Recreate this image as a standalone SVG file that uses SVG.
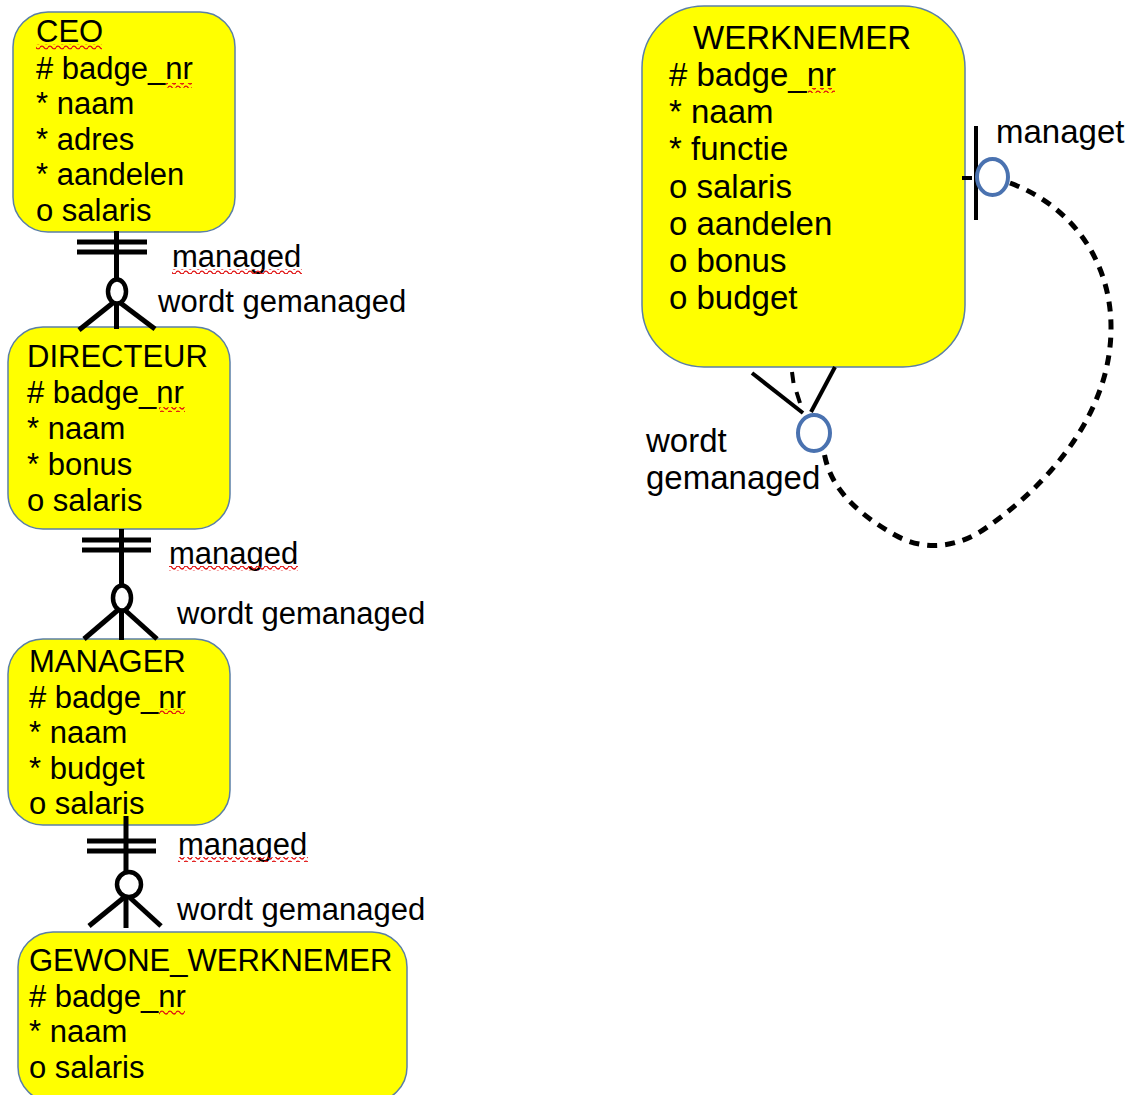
<svg xmlns="http://www.w3.org/2000/svg" width="1131" height="1095" viewBox="0 0 1131 1095">
<defs>
<style>
.box{fill:#ffff00;stroke:#5b7fa6;stroke-width:1.5}
.t{font-family:"Liberation Sans",Arial,sans-serif;font-size:31px;fill:#000}
.tw{font-family:"Liberation Sans",Arial,sans-serif;font-size:33px;fill:#000}
.ln{stroke:#000;stroke-width:5;fill:none}
.ln4{stroke:#000;stroke-width:4;fill:none}
.ov{stroke:#000;stroke-width:4.5;fill:#fff}
.bo{stroke:#4a72b0;stroke-width:4;fill:none}
.dash{stroke:#000;stroke-width:5;fill:none;stroke-dasharray:10 8}
.wv{fill:url(#wave)}
</style>
<pattern id="wave" width="8" height="5" patternUnits="userSpaceOnUse">
<path d="M0 2.5 C1 0.6 3 0.6 4 2.5 C5 4.4 7 4.4 8 2.5" stroke="#e01010" stroke-width="1.4" fill="none"/>
</pattern>
</defs>
<rect width="1131" height="1095" fill="#fff"/>

<g id="node-ceo">
<rect class="box" x="13" y="12" width="222" height="220" rx="35"/>
<text class="t"><tspan x="36" y="42">CEO</tspan><tspan x="36" y="78.5">#  badge_nr</tspan><tspan x="36" y="114">* naam</tspan><tspan x="36" y="149.5">* adres</tspan><tspan x="36" y="185">* aandelen</tspan><tspan x="36" y="221">o salaris</tspan></text>
<rect class="wv" x="36" y="44.5" width="66" height="5"/>
<rect class="wv" x="166" y="83" width="26" height="5"/>
</g>

<g id="node-directeur">
<rect class="box" x="8" y="327" width="222" height="202" rx="35"/>
<text class="t"><tspan x="27" y="367">DIRECTEUR</tspan><tspan x="27" y="403">#  badge_nr</tspan><tspan x="27" y="439">* naam</tspan><tspan x="27" y="475">* bonus</tspan><tspan x="27" y="511">o salaris</tspan></text>
<rect class="wv" x="159" y="407" width="26" height="5"/>
</g>

<g id="node-manager">
<rect class="box" x="8" y="639" width="222" height="186" rx="35"/>
<text class="t"><tspan x="29" y="672">MANAGER</tspan><tspan x="29" y="707.5">#  badge_nr</tspan><tspan x="29" y="743">* naam</tspan><tspan x="29" y="778.5">* budget</tspan><tspan x="29" y="814">o salaris</tspan></text>
<rect class="wv" x="159" y="709" width="26" height="5"/>
</g>

<g id="node-gewone-werknemer">
<rect class="box" x="18" y="932" width="389" height="170" rx="35"/>
<text class="t"><tspan x="29" y="971">GEWONE_WERKNEMER</tspan><tspan x="29" y="1006.5">#  badge_nr</tspan><tspan x="29" y="1042">* naam</tspan><tspan x="29" y="1077.5">o salaris</tspan></text>
<rect class="wv" x="159" y="1010" width="26" height="5"/>
</g>

<g id="node-werknemer">
<rect class="box" x="642" y="6" width="323" height="361" rx="62"/>
<text class="tw"><tspan x="693" y="49">WERKNEMER</tspan><tspan x="669" y="86">#  badge_nr</tspan><tspan x="669" y="123">* naam</tspan><tspan x="669" y="160">* functie</tspan><tspan x="669" y="197.5">o salaris</tspan><tspan x="669" y="234.5">o aandelen</tspan><tspan x="669" y="271.5">o bonus</tspan><tspan x="669" y="308.5">o budget</tspan></text>
<rect class="wv" x="808" y="88" width="27" height="5"/>
</g>

<g id="connectors">
<g id="ceo-directeur">
<line class="ln" x1="116.5" y1="231" x2="116.5" y2="280"/>
<line class="ln" x1="77" y1="242" x2="147" y2="242"/>
<line class="ln" x1="77" y1="252" x2="147" y2="252"/>
<line class="ln" x1="116.5" y1="300" x2="79" y2="330"/>
<line class="ln" x1="116.5" y1="300" x2="155" y2="329"/>
<line class="ln" x1="116.5" y1="300" x2="116.5" y2="329"/>
<ellipse class="ov" cx="117" cy="291.5" rx="9" ry="12"/>
</g>
<g id="directeur-manager">
<line class="ln" x1="121.5" y1="529" x2="121.5" y2="587"/>
<line class="ln" x1="82" y1="540" x2="151" y2="540"/>
<line class="ln" x1="82" y1="550" x2="151" y2="550"/>
<line class="ln" x1="121.5" y1="607" x2="84" y2="639"/>
<line class="ln" x1="121.5" y1="607" x2="157" y2="639"/>
<line class="ln" x1="121.5" y1="607" x2="121.5" y2="640"/>
<ellipse class="ov" cx="122" cy="598" rx="9" ry="12.5"/>
</g>
<g id="manager-gewone">
<line class="ln" x1="126" y1="816" x2="126" y2="873"/>
<line class="ln" x1="87" y1="841" x2="156" y2="841"/>
<line class="ln" x1="87" y1="851" x2="156" y2="851"/>
<line class="ln" x1="127" y1="895" x2="89" y2="926"/>
<line class="ln" x1="127" y1="895" x2="161" y2="926"/>
<line class="ln" x1="126" y1="895" x2="126" y2="928"/>
<ellipse class="ov" cx="129" cy="884.5" rx="12" ry="12.5"/>
</g>
<g id="werknemer-self">
<path class="dash" d="M1010 183 C1070 205 1112 260 1111 330 C1110 420 1040 490 990 525 C960 548 925 552 895 535 C860 515 830 490 824 452"/>
<line class="ln4" x1="962" y1="178" x2="972" y2="178"/>
<line class="ln4" x1="976" y1="126" x2="976" y2="220"/>
<ellipse class="bo" cx="992.5" cy="177" rx="15.5" ry="18"/>
<line class="ln4" x1="752" y1="373" x2="803" y2="413"/>
<line class="ln4" x1="835" y1="367" x2="811" y2="412"/>
<path class="ln4" d="M792 372 L793.5 383 M796.5 392 L800 403"/>
<ellipse class="bo" cx="814" cy="433" rx="16" ry="18"/>
</g>
</g>

<g id="labels">
<text class="t" x="172" y="266.5">managed</text>
<rect class="wv" x="172" y="269" width="130" height="5"/>
<text class="t" x="158" y="311.5">wordt gemanaged</text>
<text class="t" x="169" y="564">managed</text>
<rect class="wv" x="169" y="566" width="129" height="5"/>
<text class="t" x="177" y="624">wordt gemanaged</text>
<text class="t" x="178" y="854.5">managed</text>
<rect class="wv" x="178" y="857" width="130" height="5"/>
<text class="t" x="177" y="920">wordt gemanaged</text>
<text class="tw" x="996" y="142.5">managet</text>
<text class="tw"><tspan x="646" y="452">wordt</tspan><tspan x="646" y="489">gemanaged</tspan></text>
</g>
</svg>
